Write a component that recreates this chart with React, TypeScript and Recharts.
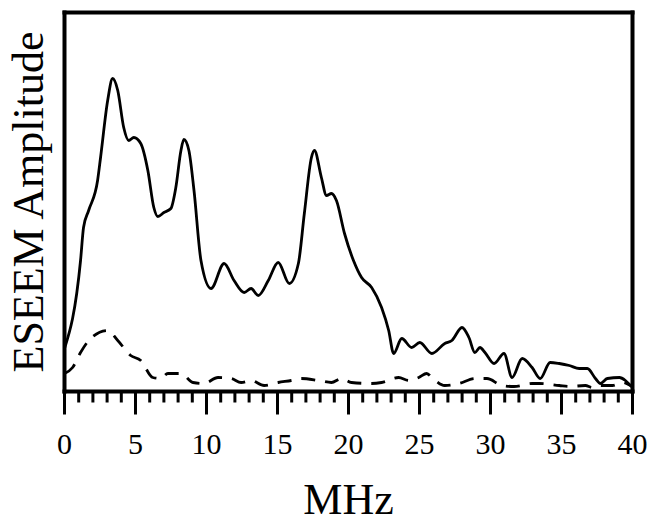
import React from 'react';
import { LineChart, Line, XAxis, YAxis } from 'recharts';

const solidMHz = [0, 1.13, 1.34, 1.7, 2.33, 2.54, 3.04, 3.39, 3.75, 4.17, 4.52, 4.88, 5.37, 5.87, 6.29, 6.57, 7.0, 7.49, 7.84, 8.2, 8.41, 8.76, 9.12, 9.61, 10.32, 11.24, 11.94, 12.65, 13.14, 13.64, 14.35, 15.05, 15.83, 16.47, 16.89, 17.39, 17.6, 18.09, 18.45, 18.8, 19.15, 19.72, 20.35, 20.92, 21.63, 22.33, 22.83, 23.18, 23.75, 24.45, 25.02, 25.87, 26.78, 27.28, 27.99, 28.48, 28.9, 29.26, 29.61, 30.25, 30.95, 31.52, 32.23, 32.93, 33.5, 34.2, 34.84, 35.55, 36.25, 36.82, 37.39, 37.74, 38.23, 39.08, 39.5, 39.86, 40];
const solidAmp = [43, 131, 164, 181, 211, 234, 291, 313, 301, 264, 251, 254, 248, 221, 184, 175, 179, 183, 204, 241, 252, 241, 201, 131, 103, 128, 111, 99, 103, 96, 111, 129, 108, 128, 178, 234, 241, 214, 196, 198, 191, 158, 131, 114, 104, 84, 61, 38, 53, 44, 49, 38, 48, 51, 64, 54, 39, 44, 39, 28, 38, 14, 33, 24, 13, 29, 28, 26, 23, 23, 13, 8, 13, 14, 11, 6, 4];

const dashedMHz = [0, 0.57, 1.13, 1.84, 3.04, 3.75, 4.66, 5.37, 6.22, 6.78, 7.28, 8.2, 9.05, 9.82, 10.81, 11.73, 12.44, 13.14, 14.06, 15.05, 15.97, 16.68, 17.88, 18.8, 19.5, 20.21, 21.63, 22.33, 23.53, 24.24, 24.95, 25.51, 25.87, 26.78, 27.77, 28.9, 29.75, 30.81, 31.66, 32.93, 33.43, 34.84, 35.55, 36.68, 37.17, 37.67, 38.59, 39.29, 39.86];
const dashedAmp = [18, 24, 39, 53, 61, 51, 36, 31, 14, 13, 18, 18, 9, 8, 14, 13, 9, 11, 6, 9, 11, 13, 11, 9, 13, 9, 8, 9, 14, 11, 14, 18, 14, 6, 8, 13, 13, 6, 5, 8, 8, 6, 5, 6, 4, 6, 6, 9, 6];

const xTicks = Array.from({ length: 41 }, (_, i) => i);
const xLabel = 'MHz';
const yLabel = 'ESEEM Amplitude';

const solidData = solidMHz.map((f, i) => ({ f, v: solidAmp[i] }));
const dashedData = dashedMHz.map((f, i) => ({ f, v: dashedAmp[i] }));

const FONT = '"Liberation Serif", "Times New Roman", serif';

const Tick = (props: any) => {
  const { x, y, payload } = props;
  const major = payload.value % 5 === 0;
  return (
    <g>
      <line x1={x} x2={x} y1={y} y2={y + (major ? 23 : 11)} stroke="#000" strokeWidth={3} />
      {major && (
        <text x={x} y={y + 62} textAnchor="middle" fontSize={30} fontFamily={FONT} fill="#000">
          {payload.value}
        </text>
      )}
    </g>
  );
};

const axisStyle = { stroke: '#000', strokeWidth: 4, strokeLinecap: 'square' as const };

export default function App() {
  return (
    <div style={{ position: 'absolute', left: 0, top: 0, background: '#fff' }}>
      <LineChart
        width={660}
        height={525}
        margin={{ top: 11.5, right: 26.5, bottom: 132.5, left: 63.5 }}
      >
        <XAxis
          dataKey="f"
          type="number"
          domain={[0, 40]}
          ticks={xTicks}
          interval={0}
          allowDataOverflow
          height={1}
          tickSize={0}
          tickMargin={0}
          tickLine={false}
          axisLine={axisStyle}
          tick={<Tick />}
          label={{
            content: (p: any) => {
              const vb = p.viewBox;
              return (
                <text x={vb.x + vb.width / 2} y={vb.y + 122} textAnchor="middle" fontSize={44} fontFamily={FONT} fill="#000">
                  {xLabel}
                </text>
              );
            },
          }}
        />
        <XAxis xAxisId="top" orientation="top" type="number" domain={[0, 40]} height={1} tick={false} tickLine={false} axisLine={axisStyle} />
        <YAxis
          type="number"
          domain={[0, 379]}
          width={1}
          tick={false}
          tickLine={false}
          axisLine={axisStyle}
          allowDataOverflow
          label={{
            content: (p: any) => {
              const vb = p.viewBox;
              const cx = vb.x + vb.width - 21.5;
              const cy = vb.y + vb.height / 2;
              return (
                <text x={cx} y={cy} transform={`rotate(-90 ${cx} ${cy})`} textAnchor="middle" fontSize={44} fontFamily={FONT} fill="#000">
                  {yLabel}
                </text>
              );
            },
          }}
        />
        <YAxis yAxisId="right" orientation="right" type="number" domain={[0, 379]} width={1} tick={false} tickLine={false} axisLine={axisStyle} />
        <Line data={dashedData} dataKey="v" type="monotone" stroke="#000" strokeWidth={2.8} strokeDasharray="14 10" dot={false} activeDot={false} isAnimationActive={false} />
        <Line data={solidData} dataKey="v" type="monotone" stroke="#000" strokeWidth={2.8} dot={false} activeDot={false} isAnimationActive={false} />
      </LineChart>
    </div>
  );
}
